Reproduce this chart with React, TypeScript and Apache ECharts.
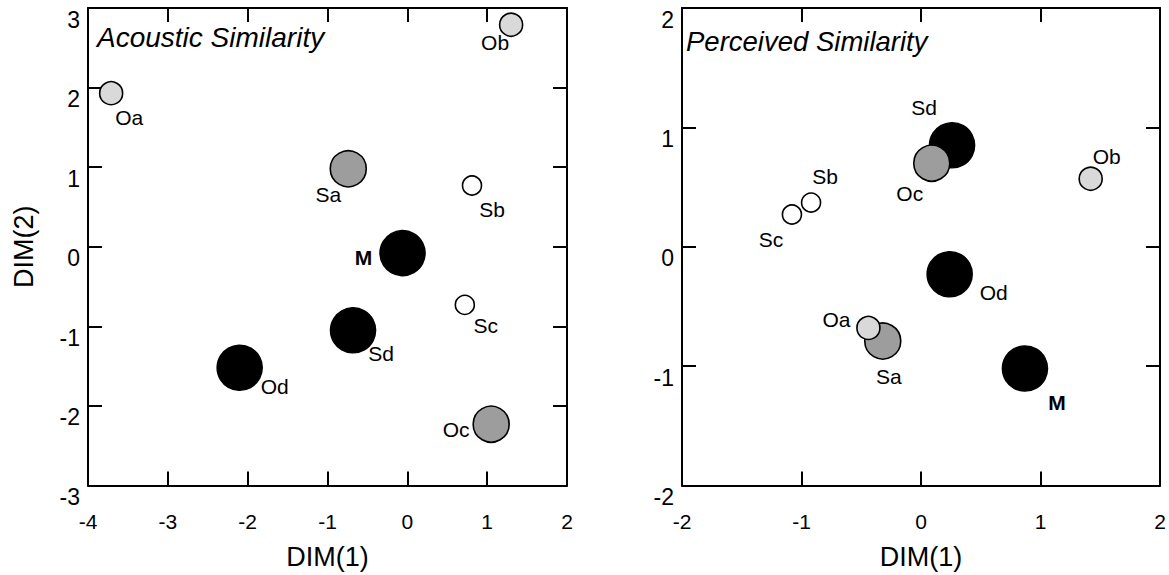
import React, { useEffect, useRef } from "react";
import * as echarts from "echarts";

// Stimulus names (drawing order: later items are drawn on top)
const names = ["M", "Sd", "Od", "Sa", "Oc", "Oa", "Ob", "Sb", "Sc"];

// Acoustic similarity MDS coordinates
const acousticX = [-0.06, -0.68, -2.1, -0.74, 1.05, -3.71, 1.3, 0.81, 0.72];
const acousticY = [-0.08, -1.05, -1.52, 0.98, -2.23, 1.93, 2.79, 0.77, -0.73];

// Perceived similarity MDS coordinates
const perceivedX = [0.87, 0.26, 0.24, -0.32, 0.09, -0.44, 1.42, -0.92, -1.08];
const perceivedY = [-1.02, 0.85, -0.23, -0.79, 0.7, -0.68, 0.57, 0.37, 0.27];

// Axis ranges
const acousticXRange = [-4, 2];
const acousticYRange = [-3, 3];
const perceivedXRange = [-2, 2];
const perceivedYRange = [-2, 2];

const titles = ["Acoustic Similarity", "Perceived Similarity"];
const xAxisName = "DIM(1)";
const yAxisName = "DIM(2)";

// Marker kind for each stimulus
const stimulusKind: Record<string, string> = {
  M: "black",
  Sd: "black",
  Od: "black",
  Sa: "mid",
  Oc: "mid",
  Oa: "light",
  Ob: "light",
  Sb: "white",
  Sc: "white",
};

const kindStyle: Record<string, { color: string; size: number }> = {
  black: { color: "#000000", size: 45 },
  mid: { color: "#9d9d9d", size: 36 },
  light: { color: "#d9d9d9", size: 23 },
  white: { color: "#ffffff", size: 19 },
};

// Label offsets (pixels from marker centre)
const acousticLabelOffset: Record<string, number[]> = {
  Oa: [18, 24],
  Ob: [-16, 18],
  Sa: [-20, 26],
  Sb: [20, 24],
  M: [-39, 4],
  Sc: [21, 21],
  Sd: [28, 23],
  Od: [35, 19],
  Oc: [-35, 5],
};
const perceivedLabelOffset: Record<string, number[]> = {
  Sd: [-28, -38],
  Oc: [-22, 30],
  Ob: [16, -22],
  Sb: [14, -26],
  Sc: [-21, 25],
  Od: [44, 18],
  Oa: [-32, -8],
  Sa: [6, 35],
  M: [32, 34],
};

const FONT = "'Liberation Sans', Arial, Helvetica, sans-serif";

function buildData(xs: number[], ys: number[], offsets: Record<string, number[]>) {
  return names.map((n, i) => {
    const st = kindStyle[stimulusKind[n]];
    return {
      name: n,
      value: [xs[i], ys[i]],
      symbolSize: st.size,
      itemStyle: { color: st.color, borderColor: "#000", borderWidth: 1.6, opacity: 1 },
      label: {
        show: true,
        formatter: n,
        position: "inside",
        offset: offsets[n],
        color: "#000",
        opacity: 1,
        fontFamily: FONT,
        fontSize: 21,
        fontWeight: n === "M" ? "bold" : "normal",
        textBorderWidth: 0,
        align: "center",
        verticalAlign: "middle",
      },
    };
  });
}

export default function App() {
  const ref = useRef<HTMLDivElement>(null);
  useEffect(() => {
    if (!ref.current) return;
    const chart = echarts.init(ref.current, undefined, { renderer: "svg" });
    const grids = [
      { left: 88, top: 8, width: 479, height: 478 },
      { left: 682, top: 8, width: 478, height: 478 },
    ];
    const lineStyle = { color: "#000", width: 2 };
    const xRanges = [acousticXRange, perceivedXRange];
    const yRanges = [acousticYRange, perceivedYRange];

    const xAxes: any[] = [];
    const yAxes: any[] = [];
    [0, 1].forEach((g) => {
      xAxes.push({
        type: "value",
        gridIndex: g,
        position: "bottom",
        min: xRanges[g][0],
        max: xRanges[g][1],
        interval: 1,
        axisLine: { show: true, onZero: false, lineStyle },
        axisTick: { show: true, inside: true, length: 14, lineStyle },
        splitLine: { show: false },
        axisLabel: {
          show: true,
          margin: 25,
          color: "#000",
          fontFamily: FONT,
          fontSize: 21,
        },
        name: xAxisName,
        nameLocation: "middle",
        nameGap: 71,
        nameTextStyle: {
          color: "#000",
          fontFamily: FONT,
          fontSize: 27,
          verticalAlign: "middle",
        },
      });
      xAxes.push({
        type: "value",
        gridIndex: g,
        position: "top",
        min: xRanges[g][0],
        max: xRanges[g][1],
        interval: 1,
        axisLine: { show: true, onZero: false, lineStyle },
        axisTick: { show: true, inside: true, length: 14, lineStyle },
        splitLine: { show: false },
        axisLabel: { show: false },
      });
      yAxes.push({
        type: "value",
        gridIndex: g,
        position: "left",
        min: yRanges[g][0],
        max: yRanges[g][1],
        interval: 1,
        axisLine: { show: true, onZero: false, lineStyle },
        axisTick: { show: true, inside: true, length: 14, lineStyle },
        splitLine: { show: false },
        axisLabel: {
          show: true,
          margin: 8,
          color: "#000",
          fontFamily: FONT,
          fontSize: 23,
          verticalAlign: "top",
        },
        name: g === 0 ? yAxisName : "",
        nameLocation: "middle",
        nameGap: 64,
        nameRotate: 90,
        nameTextStyle: {
          color: "#000",
          fontFamily: FONT,
          fontSize: 27,
          verticalAlign: "middle",
        },
      });
      yAxes.push({
        type: "value",
        gridIndex: g,
        position: "right",
        min: yRanges[g][0],
        max: yRanges[g][1],
        interval: 1,
        axisLine: { show: true, onZero: false, lineStyle },
        axisTick: { show: true, inside: true, length: 14, lineStyle },
        splitLine: { show: false },
        axisLabel: { show: false },
      });
    });

    chart.setOption({
      animation: false,
      backgroundColor: "#ffffff",
      grid: grids,
      xAxis: xAxes,
      yAxis: yAxes,
      graphic: [
        {
          type: "text",
          left: 97,
          top: 23,
          style: {
            text: titles[0],
            font: `italic 28px ${FONT}`,
            fill: "#000",
          },
        },
        {
          type: "text",
          left: 686,
          top: 28,
          style: {
            text: titles[1],
            font: `italic 27.5px ${FONT}`,
            fill: "#000",
          },
        },
      ],
      series: [
        {
          type: "scatter",
          xAxisIndex: 0,
          yAxisIndex: 0,
          symbol: "circle",
          itemStyle: { opacity: 1 },
          data: buildData(acousticX, acousticY, acousticLabelOffset),
        },
        {
          type: "scatter",
          xAxisIndex: 2,
          yAxisIndex: 2,
          symbol: "circle",
          itemStyle: { opacity: 1 },
          data: buildData(perceivedX, perceivedY, perceivedLabelOffset),
        },
      ],
    });
    return () => chart.dispose();
  }, []);
  return (
    <div
      ref={ref}
      style={{ position: "absolute", left: 0, top: 0, width: 1169, height: 575 }}
    />
  );
}
